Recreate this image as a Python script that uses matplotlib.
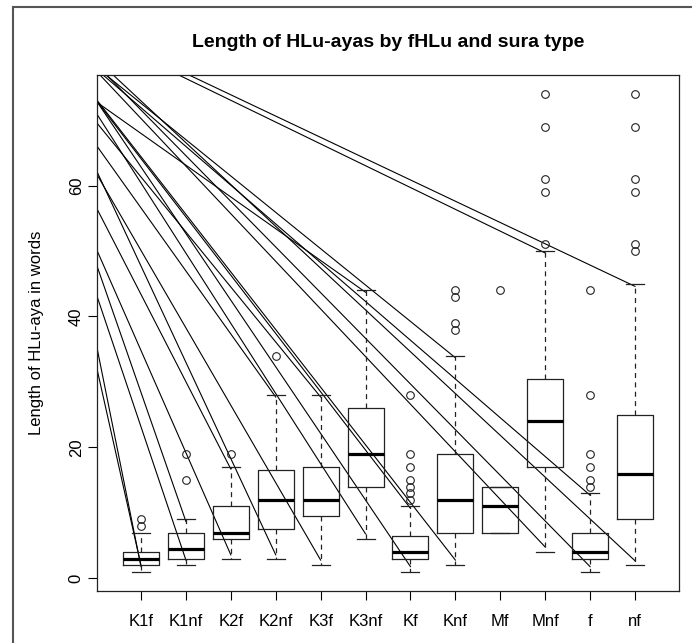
import matplotlib
matplotlib.use("Agg")
import matplotlib.pyplot as plt
from matplotlib.patches import Rectangle

plt.rcParams['font.family'] = ['Liberation Sans', 'DejaVu Sans']

turler = ['K1f', 'K1nf', 'K2f', 'K2nf', 'K3f', 'K3nf', 'Kf', 'Knf', 'Mf', 'Mnf', 'f', 'nf']
altBiyik = [1, 2, 3, 3, 2, 6, 1, 2, 7, 4, 1, 2]
q1 = [2, 3, 6, 7.5, 9.5, 14, 3, 7, 7, 17, 3, 9]
medyan = [3, 4.5, 7, 12, 12, 19, 4, 12, 11, 24, 4, 16]
q3 = [4, 7, 11, 16.5, 17, 26, 6.5, 19, 14, 30.5, 7, 25]
ustBiyik = [7, 9, 17, 28, 28, 44, 11, 34, 14, 50, 13, 45]
aykirilar = [
    [8, 9],
    [15, 19],
    [19],
    [34],
    [],
    [],
    [12, 13, 14, 15, 17, 19, 28],
    [38, 39, 43, 44],
    [44],
    [51, 59, 61, 69, 74],
    [14, 15, 17, 19, 28, 44],
    [50, 51, 59, 61, 69, 74],
]

# cizgiler: (0, baslangic) -> (kutu, bitis)
cizgiKutu = [10, 12, 8, 11, 12, 11, 10, 7, 7, 8, 6, 6, 5, 4, 4, 5, 3, 3, 2, 2, 1, 1]
cizgiBas = [83.0, 83.6, 78.1, 77.8, 79.3, 78.5, 77.5, 73.0, 73.0, 73.2, 72.8, 71.1,
            69.7, 66.2, 62.4, 61.9, 56.7, 50.4, 48.1, 43.5, 35.9, 32.6]
cizgiSon = [49.7, 44.6, 33.7, 12.7, 2.7, 1.8, 4.8, 1.8, 10.7, 2.8, 43.7, 6.8,
            27.7, 27.7, 3.6, 2.8, 16.7, 3.6, 8.7, 2.8, 1.8, 2.0]

fig = plt.figure(figsize=(6.92, 6.43), dpi=100)
ax = fig.add_axes([97 / 692, 1 - 591 / 643, 582 / 692, (591 - 74.7) / 643])

for k, a, b in zip(cizgiKutu, cizgiBas, cizgiSon):
    ax.plot([0, k], [a, b], color='black', lw=0.8)

stats = []
for i in range(len(turler)):
    stats.append(dict(whislo=altBiyik[i], q1=q1[i], med=medyan[i], q3=q3[i],
                      whishi=ustBiyik[i], fliers=aykirilar[i], label=turler[i]))

ax.bxp(stats, positions=range(1, 13), widths=0.8, capwidths=0.4,
       boxprops=dict(color='#222222', lw=0.9),
       whiskerprops=dict(color='#222222', lw=0.9, linestyle=(0, (4, 3.5))),
       capprops=dict(color='#222222', lw=0.9),
       medianprops=dict(color='black', lw=2.3, solid_capstyle='butt'),
       flierprops=dict(marker='o', markerfacecolor='none', markeredgecolor='#222222',
                       markersize=5.5, markeredgewidth=0.8))

ax.set_xlim(0.02, 12.98)
ax.set_ylim(-1.92, 76.92)
ax.set_xticks(range(1, 13))
ax.set_xticklabels(turler, fontsize=12)
ax.set_yticks([0, 20, 40, 60])
ax.set_yticklabels(['0', '20', '40', '60'], fontsize=12, rotation=90, va='center')
ax.tick_params(axis='x', length=6.5, width=0.8, pad=10)
ax.tick_params(axis='y', length=6.5, width=0.8, pad=3)
for s in ax.spines.values():
    s.set_linewidth(0.9)
    s.set_color('#222222')

ax.set_title('Length of HLu-ayas by fHLu and sura type', fontsize=14, fontweight='bold', pad=20)
ax.set_ylabel('Length of HLu-aya in words', fontsize=12)
ax.yaxis.label.set_va('center')
ax.yaxis.set_label_coords((37 - 97) / 582, 0.5)

fig.add_artist(Rectangle((13 / 692, -0.1), 1.2, 1 - 7 / 643 + 0.1, transform=fig.transFigure,
                         fill=False, edgecolor='#555555', lw=1.5))

fig.savefig('out.png', dpi=100)
